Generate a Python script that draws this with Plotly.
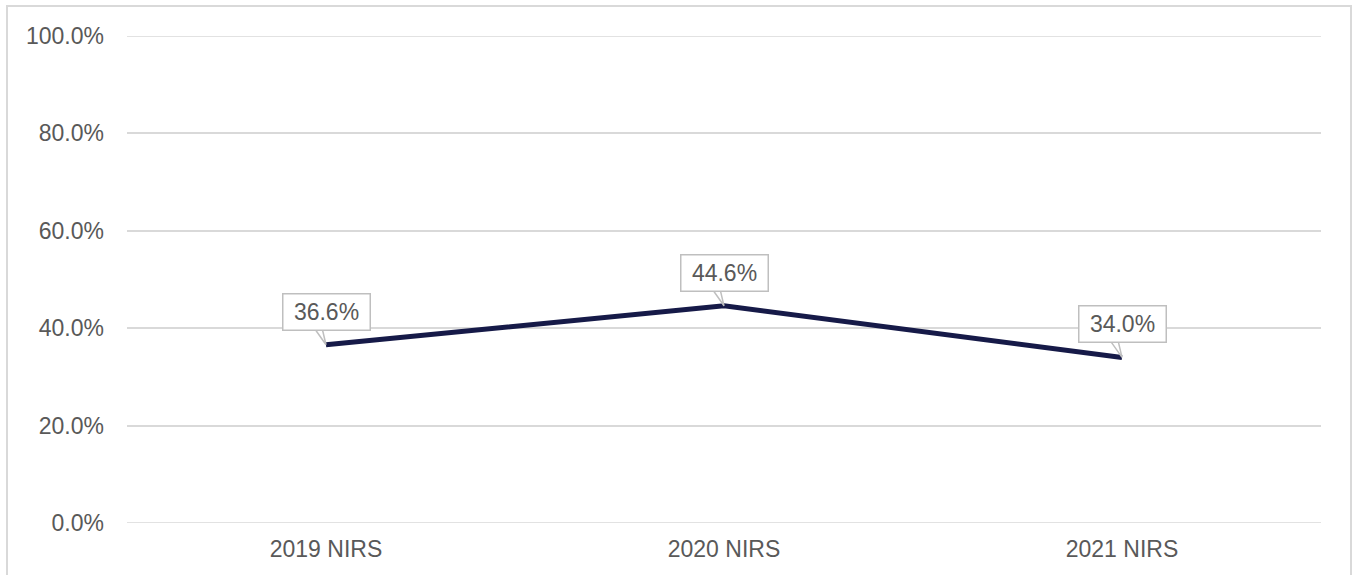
import plotly.graph_objects as go

# Survey years and share values (percent)
categories = ["2019 NIRS", "2020 NIRS", "2021 NIRS"]
values = [36.6, 44.6, 34.0]
labels = ["36.6%", "44.6%", "34.0%"]
tick_vals = [0, 20, 40, 60, 80, 100]
tick_text = ["0.0%", "20.0%", "40.0%", "60.0%", "80.0%", "100.0%"]

FONT = "Liberation Sans, Arial, sans-serif"
GREY_TEXT = "#595959"
GRID = "#d9d9d9"
CALLOUT = "#bfbfbf"
FS = 23

fig = go.Figure()
fig.add_trace(go.Scatter(
    x=categories, y=values, mode="lines",
    line=dict(color="#161a48", width=5),
    hoverinfo="skip", showlegend=False,
))

# Callout labels: a boxed value above each point with a small pointer tail
for c, v, t in zip(categories, values, labels):
    fig.add_shape(
        type="path", xref="x", yref="y",
        xsizemode="pixel", ysizemode="pixel", xanchor=c, yanchor=v,
        path="M -12 17 L 0 0 L -4 17",
        line=dict(color=CALLOUT, width=1.5), fillcolor="white", layer="above",
    )
    fig.add_annotation(
        x=c, y=v, text=t, showarrow=False, yshift=33,
        width=80, height=29,
        bordercolor=CALLOUT, borderwidth=1.5, borderpad=3,
        bgcolor="white",
        font=dict(family=FONT, size=FS, color=GREY_TEXT),
    )

W, H = 1354, 575
L, R, T, B = 127, 33, 36, 52
pw, ph = W - L - R, H - T - B

# Top and bottom gridlines sit on the plot edges
for yv in (0, 100):
    fig.add_shape(
        type="line", xref="paper", yref="y", x0=0, x1=1, y0=yv, y1=yv,
        line=dict(color=GRID, width=1.5), layer="below",
    )

# Outer chart border
fig.add_shape(
    type="rect", xref="paper", yref="paper",
    x0=(7 - L) / pw, x1=(1351 - L) / pw,
    y0=(H - B - 590) / ph, y1=(H - B - 6) / ph,
    line=dict(color=GRID, width=2), fillcolor="rgba(0,0,0,0)", layer="below",
)

fig.update_layout(
    width=W, height=H,
    margin=dict(l=L, r=R, t=T, b=B),
    paper_bgcolor="white", plot_bgcolor="white",
    font=dict(family=FONT, size=FS, color=GREY_TEXT),
    xaxis=dict(
        type="category", range=[-0.5, 2.5],
        showgrid=False, showline=False, zeroline=False,
        ticks="", ticklabelstandoff=10,
        tickfont=dict(family=FONT, size=FS, color=GREY_TEXT),
    ),
    yaxis=dict(
        range=[0, 100], tickvals=tick_vals, ticktext=tick_text,
        showgrid=True, gridcolor=GRID, gridwidth=1.5,
        zeroline=False, showline=False, ticks="", ticklabelstandoff=22,
        tickfont=dict(family=FONT, size=FS, color=GREY_TEXT),
    ),
)

fig.write_html("out.html")
